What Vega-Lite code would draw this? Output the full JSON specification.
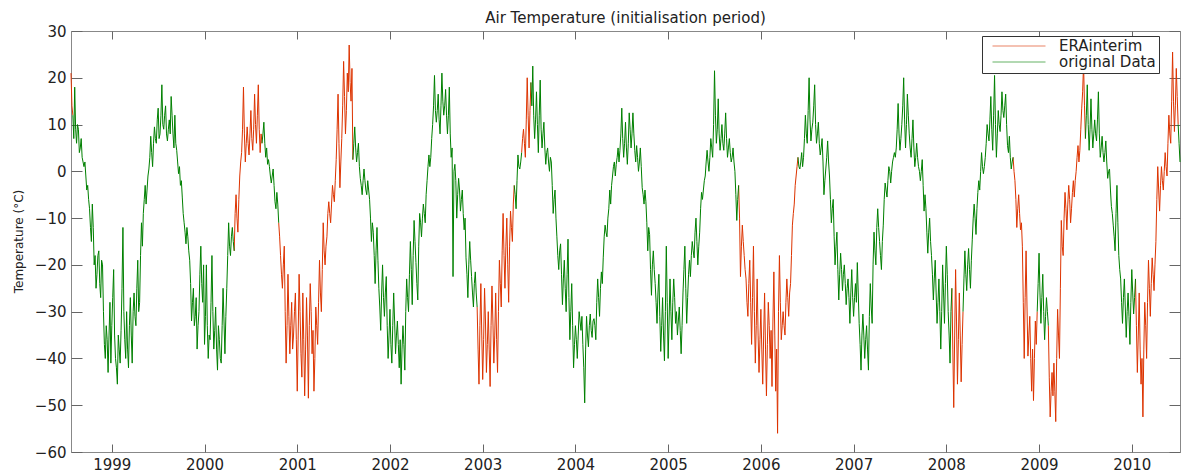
{
  "$schema": "https://vega.github.io/schema/vega-lite/v6.json",
  "width": 1109,
  "height": 421,
  "autosize": {"type": "none"},
  "padding": {"left": 71, "top": 31, "right": 5, "bottom": 23},
  "background": "white",
  "title": {"text": "Air Temperature (initialisation period)", "font": "DejaVu Sans", "fontSize": 15, "fontWeight": "normal", "color": "#222", "offset": -2},
  "config": {"view": {"stroke": "#888", "strokeWidth": 1}, "font": "DejaVu Sans"},
  "data": {"values": [
    {"x":1998.56,"ERAinterim":21},{"x":1998.57,"ERAinterim":14},{"x":1998.58,"ERAinterim":12,"original Data":12},{"x":1998.59,"original Data":7},{"x":1998.60,"original Data":18},{"x":1998.61,"original Data":9},{"x":1998.62,"original Data":6},{"x":1998.63,"original Data":10},{"x":1998.64,"original Data":9},{"x":1998.65,"original Data":4},{"x":1998.66,"original Data":5},{"x":1998.67,"original Data":7},{"x":1998.68,"original Data":3},{"x":1998.69,"original Data":2},{"x":1998.70,"original Data":1},{"x":1998.71,"original Data":2},{"x":1998.72,"original Data":-1},{"x":1998.73,"original Data":-4},{"x":1998.74,"original Data":-3},{"x":1998.75,"original Data":-6},{"x":1998.76,"original Data":-8},{"x":1998.77,"original Data":-12},{"x":1998.78,"original Data":-15},{"x":1998.79,"original Data":-7},{"x":1998.80,"original Data":-12},{"x":1998.81,"original Data":-20},{"x":1998.82,"original Data":-18},{"x":1998.83,"original Data":-25},{"x":1998.84,"original Data":-22},{"x":1998.85,"original Data":-18},{"x":1998.86,"original Data":-17},{"x":1998.87,"original Data":-24},{"x":1998.88,"original Data":-27},{"x":1998.89,"original Data":-19},{"x":1998.90,"original Data":-20},{"x":1998.91,"original Data":-30},{"x":1998.92,"original Data":-37},{"x":1998.93,"original Data":-40},{"x":1998.94,"original Data":-33},{"x":1998.95,"original Data":-36},{"x":1998.96,"original Data":-43},{"x":1998.97,"original Data":-35},{"x":1998.98,"original Data":-28},{"x":1998.99,"original Data":-41},
    {"x":1999.00,"original Data":-33},{"x":1999.01,"original Data":-27},{"x":1999.02,"original Data":-21},{"x":1999.03,"original Data":-35},{"x":1999.04,"original Data":-40},{"x":1999.05,"original Data":-42},{"x":1999.06,"original Data":-45.5},{"x":1999.07,"original Data":-35},{"x":1999.08,"original Data":-38},{"x":1999.09,"original Data":-41},{"x":1999.10,"original Data":-34},{"x":1999.11,"original Data":-25},{"x":1999.12,"original Data":-12},{"x":1999.13,"original Data":-30},{"x":1999.14,"original Data":-36},{"x":1999.15,"original Data":-40},{"x":1999.16,"original Data":-30},{"x":1999.17,"original Data":-38},{"x":1999.18,"original Data":-42},{"x":1999.19,"original Data":-33},{"x":1999.20,"original Data":-27},{"x":1999.21,"original Data":-35},{"x":1999.22,"original Data":-41},{"x":1999.23,"original Data":-30},{"x":1999.24,"original Data":-26},{"x":1999.25,"original Data":-31},{"x":1999.26,"original Data":-33},{"x":1999.27,"original Data":-25},{"x":1999.28,"original Data":-19},{"x":1999.29,"original Data":-30},{"x":1999.30,"original Data":-28},{"x":1999.31,"original Data":-18},{"x":1999.32,"original Data":-11},{"x":1999.33,"original Data":-16},{"x":1999.34,"original Data":-9},{"x":1999.35,"original Data":-6},{"x":1999.36,"original Data":-3},{"x":1999.37,"original Data":-7},{"x":1999.38,"original Data":-4},{"x":1999.39,"original Data":-1},{"x":1999.40,"original Data":0.5},{"x":1999.41,"original Data":3},{"x":1999.42,"original Data":7.5},{"x":1999.43,"original Data":4},{"x":1999.44,"original Data":1},{"x":1999.45,"original Data":6},{"x":1999.46,"original Data":9.5},{"x":1999.47,"original Data":7},{"x":1999.48,"original Data":6},{"x":1999.49,"original Data":11},{"x":1999.50,"original Data":13.5},{"x":1999.51,"original Data":7},{"x":1999.52,"original Data":8},{"x":1999.53,"original Data":12},{"x":1999.54,"original Data":18.5},{"x":1999.55,"original Data":10},{"x":1999.56,"original Data":9},{"x":1999.57,"original Data":12},{"x":1999.58,"original Data":14},{"x":1999.59,"original Data":8},{"x":1999.60,"original Data":6.5},{"x":1999.61,"original Data":9},{"x":1999.62,"original Data":11},{"x":1999.63,"original Data":8},{"x":1999.64,"original Data":16},{"x":1999.65,"original Data":12},{"x":1999.66,"original Data":8},{"x":1999.67,"original Data":5},{"x":1999.68,"original Data":12},{"x":1999.69,"original Data":6},{"x":1999.70,"original Data":4.5},{"x":1999.71,"original Data":2},{"x":1999.72,"original Data":-0.5},{"x":1999.73,"original Data":1},{"x":1999.74,"original Data":-3},{"x":1999.75,"original Data":-2},{"x":1999.76,"original Data":-5.5},{"x":1999.77,"original Data":-9},{"x":1999.78,"original Data":-11},{"x":1999.79,"original Data":-13},{"x":1999.80,"original Data":-15.5},{"x":1999.81,"original Data":-12},{"x":1999.82,"original Data":-14},{"x":1999.83,"original Data":-17},{"x":1999.84,"original Data":-19},{"x":1999.85,"original Data":-24},{"x":1999.86,"original Data":-32},{"x":1999.87,"original Data":-28},{"x":1999.88,"original Data":-25},{"x":1999.89,"original Data":-33},{"x":1999.90,"original Data":-31},{"x":1999.91,"original Data":-27},{"x":1999.92,"original Data":-38},{"x":1999.93,"original Data":-33},{"x":1999.94,"original Data":-30},{"x":1999.95,"original Data":-22},{"x":1999.96,"original Data":-16},{"x":1999.97,"original Data":-24},{"x":1999.98,"original Data":-28},{"x":1999.99,"original Data":-20},
    {"x":2000.00,"original Data":-37},{"x":2000.01,"original Data":-31},{"x":2000.02,"original Data":-20},{"x":2000.03,"original Data":-33},{"x":2000.04,"original Data":-40},{"x":2000.05,"original Data":-35},{"x":2000.06,"original Data":-36},{"x":2000.07,"original Data":-28},{"x":2000.08,"original Data":-18},{"x":2000.09,"original Data":-30},{"x":2000.10,"original Data":-38},{"x":2000.11,"original Data":-34},{"x":2000.12,"original Data":-29},{"x":2000.13,"original Data":-38},{"x":2000.14,"original Data":-42.5},{"x":2000.15,"original Data":-33},{"x":2000.16,"original Data":-36},{"x":2000.17,"original Data":-40},{"x":2000.18,"original Data":-41},{"x":2000.19,"original Data":-33},{"x":2000.20,"original Data":-25},{"x":2000.21,"original Data":-32},{"x":2000.22,"original Data":-39},{"x":2000.23,"original Data":-31},{"x":2000.24,"original Data":-25},{"x":2000.25,"original Data":-18},{"x":2000.26,"original Data":-11},{"x":2000.27,"original Data":-16},{"x":2000.28,"original Data":-18},{"x":2000.29,"original Data":-14},{"x":2000.30,"original Data":-12},{"x":2000.31,"original Data":-15},{"x":2000.32,"ERAinterim":-17,"original Data":-17},{"x":2000.33,"ERAinterim":-9},{"x":2000.34,"ERAinterim":-5},{"x":2000.35,"ERAinterim":-10},{"x":2000.36,"ERAinterim":-13},{"x":2000.37,"ERAinterim":-6},{"x":2000.38,"ERAinterim":-1},{"x":2000.39,"ERAinterim":2},{"x":2000.40,"ERAinterim":4},{"x":2000.41,"ERAinterim":9},{"x":2000.42,"ERAinterim":18},{"x":2000.43,"ERAinterim":8},{"x":2000.44,"ERAinterim":2},{"x":2000.45,"ERAinterim":6},{"x":2000.46,"ERAinterim":9.5},{"x":2000.47,"ERAinterim":6},{"x":2000.48,"ERAinterim":3.5},{"x":2000.49,"ERAinterim":8},{"x":2000.50,"ERAinterim":13},{"x":2000.51,"ERAinterim":7},{"x":2000.52,"ERAinterim":4.5},{"x":2000.53,"ERAinterim":9},{"x":2000.54,"ERAinterim":16.5},{"x":2000.55,"ERAinterim":10},{"x":2000.56,"ERAinterim":6},{"x":2000.57,"ERAinterim":12},{"x":2000.58,"ERAinterim":18.5},{"x":2000.59,"ERAinterim":9},{"x":2000.60,"ERAinterim":4},{"x":2000.61,"ERAinterim":8},{"x":2000.62,"ERAinterim":6,"original Data":6},{"x":2000.63,"original Data":8},{"x":2000.64,"original Data":10.5},{"x":2000.65,"original Data":6},{"x":2000.66,"original Data":3},{"x":2000.67,"original Data":5},{"x":2000.68,"original Data":1.5},{"x":2000.69,"original Data":2.5},{"x":2000.70,"original Data":1},{"x":2000.71,"original Data":-1},{"x":2000.72,"original Data":-2.5},{"x":2000.73,"original Data":-1},{"x":2000.74,"original Data":0.5},{"x":2000.75,"original Data":-3},{"x":2000.76,"original Data":-6.5},{"x":2000.77,"original Data":-8},{"x":2000.78,"original Data":-4.5},{"x":2000.79,"original Data":-7},{"x":2000.80,"ERAinterim":-11,"original Data":-11},{"x":2000.81,"ERAinterim":-14},{"x":2000.82,"ERAinterim":-18},{"x":2000.83,"ERAinterim":-22},{"x":2000.84,"ERAinterim":-25},{"x":2000.85,"ERAinterim":-20},{"x":2000.86,"ERAinterim":-16},{"x":2000.87,"ERAinterim":-30},{"x":2000.88,"ERAinterim":-41},{"x":2000.89,"ERAinterim":-33},{"x":2000.90,"ERAinterim":-22},{"x":2000.91,"ERAinterim":-31},{"x":2000.92,"ERAinterim":-39},{"x":2000.93,"ERAinterim":-33},{"x":2000.94,"ERAinterim":-28},{"x":2000.95,"ERAinterim":-38},{"x":2000.96,"ERAinterim":-35},{"x":2000.97,"ERAinterim":-30},{"x":2000.98,"ERAinterim":-26},{"x":2000.99,"ERAinterim":-36},
    {"x":2001.00,"ERAinterim":-47},{"x":2001.01,"ERAinterim":-35},{"x":2001.02,"ERAinterim":-22},{"x":2001.03,"ERAinterim":-30},{"x":2001.04,"ERAinterim":-39},{"x":2001.05,"ERAinterim":-44},{"x":2001.06,"ERAinterim":-26},{"x":2001.07,"ERAinterim":-36},{"x":2001.08,"ERAinterim":-48},{"x":2001.09,"ERAinterim":-38},{"x":2001.10,"ERAinterim":-27},{"x":2001.11,"ERAinterim":-35},{"x":2001.12,"ERAinterim":-48.5},{"x":2001.13,"ERAinterim":-33},{"x":2001.14,"ERAinterim":-24},{"x":2001.15,"ERAinterim":-30},{"x":2001.16,"ERAinterim":-39},{"x":2001.17,"ERAinterim":-34},{"x":2001.18,"ERAinterim":-47},{"x":2001.19,"ERAinterim":-40},{"x":2001.20,"ERAinterim":-29},{"x":2001.21,"ERAinterim":-33},{"x":2001.22,"ERAinterim":-37},{"x":2001.23,"ERAinterim":-28},{"x":2001.24,"ERAinterim":-19},{"x":2001.25,"ERAinterim":-26},{"x":2001.26,"ERAinterim":-30},{"x":2001.27,"ERAinterim":-21},{"x":2001.28,"ERAinterim":-11},{"x":2001.29,"ERAinterim":-17},{"x":2001.30,"ERAinterim":-20},{"x":2001.31,"ERAinterim":-16},{"x":2001.32,"ERAinterim":-14},{"x":2001.33,"ERAinterim":-9},{"x":2001.34,"ERAinterim":-6.5},{"x":2001.35,"ERAinterim":-9},{"x":2001.36,"ERAinterim":-11},{"x":2001.37,"ERAinterim":-7},{"x":2001.38,"ERAinterim":-3},{"x":2001.39,"ERAinterim":-5},{"x":2001.40,"ERAinterim":-6.5},{"x":2001.41,"ERAinterim":-2},{"x":2001.42,"ERAinterim":2.5},{"x":2001.43,"ERAinterim":9},{"x":2001.44,"ERAinterim":16.5},{"x":2001.45,"ERAinterim":6},{"x":2001.46,"ERAinterim":-3.5},{"x":2001.47,"ERAinterim":2},{"x":2001.48,"ERAinterim":7},{"x":2001.49,"ERAinterim":14},{"x":2001.50,"ERAinterim":23.5},{"x":2001.51,"ERAinterim":16},{"x":2001.52,"ERAinterim":8},{"x":2001.53,"ERAinterim":13},{"x":2001.54,"ERAinterim":21},{"x":2001.55,"ERAinterim":17},{"x":2001.56,"ERAinterim":27},{"x":2001.57,"ERAinterim":19},{"x":2001.58,"ERAinterim":15},{"x":2001.59,"ERAinterim":22},{"x":2001.60,"ERAinterim":2.5,"original Data":2.5},{"x":2001.61,"original Data":6},{"x":2001.62,"original Data":9.5},{"x":2001.63,"original Data":5},{"x":2001.64,"original Data":2},{"x":2001.65,"original Data":4},{"x":2001.66,"original Data":6},{"x":2001.67,"original Data":1},{"x":2001.68,"original Data":-1.5},{"x":2001.69,"original Data":-3},{"x":2001.70,"original Data":-5},{"x":2001.71,"original Data":-2},{"x":2001.72,"original Data":0.5},{"x":2001.73,"original Data":-2},{"x":2001.74,"original Data":-4},{"x":2001.75,"original Data":-5},{"x":2001.76,"original Data":-2},{"x":2001.77,"original Data":-4},{"x":2001.78,"original Data":-6},{"x":2001.79,"original Data":-10},{"x":2001.80,"original Data":-15},{"x":2001.81,"original Data":-11},{"x":2001.82,"original Data":-13},{"x":2001.83,"original Data":-18},{"x":2001.84,"original Data":-24},{"x":2001.85,"original Data":-17},{"x":2001.86,"original Data":-12},{"x":2001.87,"original Data":-19},{"x":2001.88,"original Data":-25},{"x":2001.89,"original Data":-29},{"x":2001.90,"original Data":-34},{"x":2001.91,"original Data":-26},{"x":2001.92,"original Data":-20},{"x":2001.93,"original Data":-27},{"x":2001.94,"original Data":-31},{"x":2001.95,"original Data":-26},{"x":2001.96,"original Data":-22.5},{"x":2001.97,"original Data":-33},{"x":2001.98,"original Data":-40},{"x":2001.99,"original Data":-35},
    {"x":2002.00,"original Data":-29.5},{"x":2002.01,"original Data":-37},{"x":2002.02,"original Data":-41},{"x":2002.03,"original Data":-33},{"x":2002.04,"original Data":-26},{"x":2002.05,"original Data":-32},{"x":2002.06,"original Data":-39},{"x":2002.07,"original Data":-35},{"x":2002.08,"original Data":-32},{"x":2002.09,"original Data":-37},{"x":2002.10,"original Data":-42},{"x":2002.11,"original Data":-36},{"x":2002.12,"original Data":-45.5},{"x":2002.13,"original Data":-38},{"x":2002.14,"original Data":-33},{"x":2002.15,"original Data":-37},{"x":2002.16,"original Data":-42.5},{"x":2002.17,"original Data":-30},{"x":2002.18,"original Data":-23},{"x":2002.19,"original Data":-27},{"x":2002.20,"original Data":-30},{"x":2002.21,"original Data":-22},{"x":2002.22,"original Data":-15},{"x":2002.23,"original Data":-21},{"x":2002.24,"original Data":-28.5},{"x":2002.25,"original Data":-18},{"x":2002.26,"original Data":-10.5},{"x":2002.27,"original Data":-15},{"x":2002.28,"original Data":-19.5},{"x":2002.29,"original Data":-24},{"x":2002.30,"original Data":-27.5},{"x":2002.31,"original Data":-16},{"x":2002.32,"original Data":-9},{"x":2002.33,"original Data":-11},{"x":2002.34,"original Data":-14},{"x":2002.35,"original Data":-10},{"x":2002.36,"original Data":-7},{"x":2002.37,"original Data":-9},{"x":2002.38,"original Data":-11},{"x":2002.39,"original Data":-5},{"x":2002.40,"original Data":-2},{"x":2002.41,"original Data":1},{"x":2002.42,"original Data":3.5},{"x":2002.43,"original Data":1},{"x":2002.44,"original Data":3},{"x":2002.45,"original Data":7},{"x":2002.46,"original Data":10},{"x":2002.47,"original Data":14},{"x":2002.48,"original Data":20.5},{"x":2002.49,"original Data":13},{"x":2002.50,"original Data":10.5},{"x":2002.51,"original Data":13},{"x":2002.52,"original Data":16.5},{"x":2002.53,"original Data":11},{"x":2002.54,"original Data":8},{"x":2002.55,"original Data":14},{"x":2002.56,"original Data":21},{"x":2002.57,"original Data":15},{"x":2002.58,"original Data":12},{"x":2002.59,"original Data":14},{"x":2002.60,"original Data":17.5},{"x":2002.61,"original Data":12},{"x":2002.62,"original Data":8},{"x":2002.63,"original Data":12},{"x":2002.64,"original Data":18},{"x":2002.65,"original Data":8},{"x":2002.66,"original Data":3},{"x":2002.67,"original Data":5},{"x":2002.68,"original Data":-22.5},{"x":2002.69,"original Data":0},{"x":2002.70,"original Data":1.5},{"x":2002.71,"original Data":-2},{"x":2002.72,"original Data":-10},{"x":2002.73,"original Data":-5},{"x":2002.74,"original Data":-1.5},{"x":2002.75,"original Data":-4},{"x":2002.76,"original Data":-8.5},{"x":2002.77,"original Data":-6},{"x":2002.78,"original Data":-4},{"x":2002.79,"original Data":-9},{"x":2002.80,"original Data":-12.5},{"x":2002.81,"original Data":-10},{"x":2002.82,"original Data":-18.5},{"x":2002.83,"original Data":-22},{"x":2002.84,"original Data":-27},{"x":2002.85,"original Data":-20},{"x":2002.86,"original Data":-15},{"x":2002.87,"original Data":-19},{"x":2002.88,"original Data":-22.5},{"x":2002.89,"original Data":-26},{"x":2002.90,"original Data":-29},{"x":2002.91,"original Data":-24},{"x":2002.92,"original Data":-21.5},{"x":2002.93,"original Data":-26},{"x":2002.94,"ERAinterim":-29,"original Data":-29},{"x":2002.95,"ERAinterim":-38},{"x":2002.96,"ERAinterim":-45.5},{"x":2002.97,"ERAinterim":-33},{"x":2002.98,"ERAinterim":-24},{"x":2002.99,"ERAinterim":-35},
    {"x":2003.00,"ERAinterim":-44.5},{"x":2003.01,"ERAinterim":-36},{"x":2003.02,"ERAinterim":-25},{"x":2003.03,"ERAinterim":-32},{"x":2003.04,"ERAinterim":-43},{"x":2003.05,"ERAinterim":-37},{"x":2003.06,"ERAinterim":-30},{"x":2003.07,"ERAinterim":-38},{"x":2003.08,"ERAinterim":-46},{"x":2003.09,"ERAinterim":-33},{"x":2003.10,"ERAinterim":-24.5},{"x":2003.11,"ERAinterim":-32},{"x":2003.12,"ERAinterim":-41},{"x":2003.13,"ERAinterim":-35},{"x":2003.14,"ERAinterim":-26},{"x":2003.15,"ERAinterim":-36},{"x":2003.16,"ERAinterim":-43},{"x":2003.17,"ERAinterim":-30},{"x":2003.18,"ERAinterim":-19},{"x":2003.19,"ERAinterim":-24},{"x":2003.20,"ERAinterim":-29},{"x":2003.21,"ERAinterim":-17},{"x":2003.22,"ERAinterim":-9},{"x":2003.23,"ERAinterim":-18},{"x":2003.24,"ERAinterim":-25},{"x":2003.25,"ERAinterim":-16},{"x":2003.26,"ERAinterim":-10},{"x":2003.27,"ERAinterim":-20},{"x":2003.28,"ERAinterim":-28},{"x":2003.29,"ERAinterim":-16},{"x":2003.30,"ERAinterim":-8.5},{"x":2003.31,"ERAinterim":-12},{"x":2003.32,"ERAinterim":-15},{"x":2003.33,"ERAinterim":-7},{"x":2003.34,"ERAinterim":-3,"original Data":-3},{"x":2003.35,"original Data":-5},{"x":2003.36,"original Data":-8},{"x":2003.37,"original Data":-2},{"x":2003.38,"original Data":3.5},{"x":2003.39,"original Data":1},{"x":2003.40,"original Data":0.5},{"x":2003.41,"original Data":2},{"x":2003.42,"ERAinterim":4,"original Data":4},{"x":2003.43,"ERAinterim":7},{"x":2003.44,"ERAinterim":9},{"x":2003.45,"ERAinterim":6},{"x":2003.46,"ERAinterim":3},{"x":2003.47,"ERAinterim":11},{"x":2003.48,"ERAinterim":20},{"x":2003.49,"ERAinterim":12},{"x":2003.50,"ERAinterim":5},{"x":2003.51,"ERAinterim":13},{"x":2003.52,"ERAinterim":19,"original Data":19},{"x":2003.53,"original Data":14},{"x":2003.54,"original Data":22.5},{"x":2003.55,"original Data":12},{"x":2003.56,"original Data":7},{"x":2003.57,"original Data":11},{"x":2003.58,"original Data":17},{"x":2003.59,"original Data":10},{"x":2003.60,"original Data":4},{"x":2003.61,"original Data":12},{"x":2003.62,"original Data":19.5},{"x":2003.63,"original Data":9},{"x":2003.64,"original Data":5},{"x":2003.65,"original Data":8},{"x":2003.66,"original Data":10.5},{"x":2003.67,"original Data":5},{"x":2003.68,"original Data":1.5},{"x":2003.69,"original Data":4},{"x":2003.70,"original Data":5},{"x":2003.71,"original Data":2},{"x":2003.72,"original Data":0},{"x":2003.73,"original Data":3},{"x":2003.74,"original Data":2},{"x":2003.75,"original Data":-3},{"x":2003.76,"original Data":-9},{"x":2003.77,"original Data":-6},{"x":2003.78,"original Data":-4},{"x":2003.79,"original Data":-10},{"x":2003.80,"original Data":-14},{"x":2003.81,"original Data":-18},{"x":2003.82,"original Data":-21},{"x":2003.83,"original Data":-17},{"x":2003.84,"original Data":-15.5},{"x":2003.85,"original Data":-22},{"x":2003.86,"original Data":-28.5},{"x":2003.87,"original Data":-23},{"x":2003.88,"original Data":-19},{"x":2003.89,"original Data":-25},{"x":2003.90,"original Data":-30},{"x":2003.91,"original Data":-22},{"x":2003.92,"original Data":-14.5},{"x":2003.93,"original Data":-27},{"x":2003.94,"original Data":-36},{"x":2003.95,"original Data":-30},{"x":2003.96,"original Data":-24},{"x":2003.97,"original Data":-33},{"x":2003.98,"original Data":-42},{"x":2003.99,"original Data":-37},
    {"x":2004.00,"original Data":-33},{"x":2004.01,"original Data":-36},{"x":2004.02,"original Data":-40},{"x":2004.03,"original Data":-35},{"x":2004.04,"original Data":-30},{"x":2004.05,"original Data":-32},{"x":2004.06,"original Data":-34},{"x":2004.07,"original Data":-31},{"x":2004.08,"original Data":-37},{"x":2004.09,"original Data":-42},{"x":2004.10,"original Data":-49.5},{"x":2004.11,"original Data":-38},{"x":2004.12,"original Data":-31},{"x":2004.13,"original Data":-35},{"x":2004.14,"original Data":-37.5},{"x":2004.15,"original Data":-33},{"x":2004.16,"original Data":-30.5},{"x":2004.17,"original Data":-34},{"x":2004.18,"original Data":-35.5},{"x":2004.19,"original Data":-32},{"x":2004.20,"original Data":-31.5},{"x":2004.21,"original Data":-33},{"x":2004.22,"original Data":-36},{"x":2004.23,"original Data":-28},{"x":2004.24,"original Data":-23},{"x":2004.25,"original Data":-27},{"x":2004.26,"original Data":-31},{"x":2004.27,"original Data":-25},{"x":2004.28,"original Data":-21.5},{"x":2004.29,"original Data":-24},{"x":2004.30,"original Data":-18.5},{"x":2004.31,"original Data":-14},{"x":2004.32,"original Data":-11.5},{"x":2004.33,"original Data":-13},{"x":2004.34,"original Data":-14},{"x":2004.35,"original Data":-10},{"x":2004.36,"original Data":-8},{"x":2004.37,"original Data":-4},{"x":2004.38,"original Data":-7},{"x":2004.39,"original Data":-3},{"x":2004.40,"original Data":-1},{"x":2004.41,"original Data":1},{"x":2004.42,"original Data":2},{"x":2004.43,"original Data":-1},{"x":2004.44,"original Data":1.5},{"x":2004.45,"original Data":3},{"x":2004.46,"original Data":5},{"x":2004.47,"original Data":2},{"x":2004.48,"original Data":4.5},{"x":2004.49,"original Data":8},{"x":2004.50,"original Data":13.5},{"x":2004.51,"original Data":7},{"x":2004.52,"original Data":3},{"x":2004.53,"original Data":6},{"x":2004.54,"original Data":10.5},{"x":2004.55,"original Data":5},{"x":2004.56,"original Data":1.5},{"x":2004.57,"original Data":6},{"x":2004.58,"original Data":12.5},{"x":2004.59,"original Data":9},{"x":2004.60,"original Data":5},{"x":2004.61,"original Data":8},{"x":2004.62,"original Data":12.5},{"x":2004.63,"original Data":8},{"x":2004.64,"original Data":4.5},{"x":2004.65,"original Data":2},{"x":2004.66,"original Data":5.5},{"x":2004.67,"original Data":3},{"x":2004.68,"original Data":0},{"x":2004.69,"original Data":2},{"x":2004.70,"original Data":5},{"x":2004.71,"original Data":1},{"x":2004.72,"original Data":-3.5},{"x":2004.73,"original Data":-5},{"x":2004.74,"original Data":-7},{"x":2004.75,"original Data":-4},{"x":2004.76,"original Data":-6.5},{"x":2004.77,"original Data":-11},{"x":2004.78,"original Data":-17},{"x":2004.79,"original Data":-12},{"x":2004.80,"original Data":-13.5},{"x":2004.81,"original Data":-21},{"x":2004.82,"original Data":-26.5},{"x":2004.83,"original Data":-20},{"x":2004.84,"original Data":-17},{"x":2004.85,"original Data":-21},{"x":2004.86,"original Data":-24},{"x":2004.87,"original Data":-28},{"x":2004.88,"original Data":-32.5},{"x":2004.89,"original Data":-26},{"x":2004.90,"original Data":-22},{"x":2004.91,"original Data":-31},{"x":2004.92,"original Data":-38.5},{"x":2004.93,"original Data":-33},{"x":2004.94,"original Data":-27},{"x":2004.95,"original Data":-35},{"x":2004.96,"original Data":-40.5},{"x":2004.97,"original Data":-30},{"x":2004.98,"original Data":-16},{"x":2004.99,"original Data":-28},
    {"x":2005.00,"original Data":-40},{"x":2005.01,"original Data":-32},{"x":2005.02,"original Data":-23},{"x":2005.03,"original Data":-30},{"x":2005.04,"original Data":-36},{"x":2005.05,"original Data":-28},{"x":2005.06,"original Data":-23},{"x":2005.07,"original Data":-27},{"x":2005.08,"original Data":-32.5},{"x":2005.09,"original Data":-30},{"x":2005.10,"original Data":-35},{"x":2005.11,"original Data":-32},{"x":2005.12,"original Data":-29},{"x":2005.13,"original Data":-34},{"x":2005.14,"original Data":-39},{"x":2005.15,"original Data":-33},{"x":2005.16,"original Data":-26},{"x":2005.17,"original Data":-21},{"x":2005.18,"original Data":-16},{"x":2005.19,"original Data":-25},{"x":2005.20,"original Data":-32.5},{"x":2005.21,"original Data":-27},{"x":2005.22,"original Data":-22},{"x":2005.23,"original Data":-19},{"x":2005.24,"original Data":-22.5},{"x":2005.25,"original Data":-18},{"x":2005.26,"original Data":-15},{"x":2005.27,"original Data":-17},{"x":2005.28,"original Data":-18.5},{"x":2005.29,"original Data":-13},{"x":2005.30,"original Data":-10},{"x":2005.31,"original Data":-15},{"x":2005.32,"original Data":-20},{"x":2005.33,"original Data":-16},{"x":2005.34,"original Data":-13},{"x":2005.35,"original Data":-8},{"x":2005.36,"original Data":-4.5},{"x":2005.37,"original Data":-6},{"x":2005.38,"original Data":-4},{"x":2005.39,"original Data":-2},{"x":2005.40,"original Data":-1},{"x":2005.41,"original Data":2},{"x":2005.42,"original Data":4.5},{"x":2005.43,"original Data":2},{"x":2005.44,"original Data":0},{"x":2005.45,"original Data":3},{"x":2005.46,"original Data":7},{"x":2005.47,"original Data":5},{"x":2005.48,"original Data":3},{"x":2005.49,"original Data":10},{"x":2005.50,"original Data":21.5},{"x":2005.51,"original Data":12},{"x":2005.52,"original Data":6},{"x":2005.53,"original Data":9},{"x":2005.54,"original Data":15.5},{"x":2005.55,"original Data":8},{"x":2005.56,"original Data":4.5},{"x":2005.57,"original Data":7},{"x":2005.58,"original Data":10},{"x":2005.59,"original Data":6},{"x":2005.60,"original Data":4.5},{"x":2005.61,"original Data":8},{"x":2005.62,"original Data":12.5},{"x":2005.63,"original Data":7},{"x":2005.64,"original Data":3},{"x":2005.65,"original Data":5},{"x":2005.66,"original Data":7},{"x":2005.67,"original Data":4},{"x":2005.68,"original Data":2},{"x":2005.69,"original Data":3},{"x":2005.70,"original Data":5},{"x":2005.71,"original Data":2},{"x":2005.72,"original Data":0},{"x":2005.73,"original Data":-5},{"x":2005.74,"original Data":-10.5},{"x":2005.75,"original Data":-6},{"x":2005.76,"ERAinterim":-3,"original Data":-3},{"x":2005.77,"ERAinterim":-10},{"x":2005.78,"ERAinterim":-22.5},{"x":2005.79,"ERAinterim":-16},{"x":2005.80,"ERAinterim":-11.5},{"x":2005.81,"ERAinterim":-15},{"x":2005.82,"ERAinterim":-18},{"x":2005.83,"ERAinterim":-21},{"x":2005.84,"ERAinterim":-23},{"x":2005.85,"ERAinterim":-28},{"x":2005.86,"ERAinterim":-31},{"x":2005.87,"ERAinterim":-24},{"x":2005.88,"ERAinterim":-19},{"x":2005.89,"ERAinterim":-28},{"x":2005.90,"ERAinterim":-37},{"x":2005.91,"ERAinterim":-27},{"x":2005.92,"ERAinterim":-16},{"x":2005.93,"ERAinterim":-30},{"x":2005.94,"ERAinterim":-41},{"x":2005.95,"ERAinterim":-33},{"x":2005.96,"ERAinterim":-23},{"x":2005.97,"ERAinterim":-35},{"x":2005.98,"ERAinterim":-43},{"x":2005.99,"ERAinterim":-36},
    {"x":2006.00,"ERAinterim":-29.5},{"x":2006.01,"ERAinterim":-38},{"x":2006.02,"ERAinterim":-45.5},{"x":2006.03,"ERAinterim":-35},{"x":2006.04,"ERAinterim":-26},{"x":2006.05,"ERAinterim":-38},{"x":2006.06,"ERAinterim":-48},{"x":2006.07,"ERAinterim":-37},{"x":2006.08,"ERAinterim":-28},{"x":2006.09,"ERAinterim":-33},{"x":2006.10,"ERAinterim":-40},{"x":2006.11,"ERAinterim":-34},{"x":2006.12,"ERAinterim":-46},{"x":2006.13,"ERAinterim":-32},{"x":2006.14,"ERAinterim":-21.5},{"x":2006.15,"ERAinterim":-35},{"x":2006.16,"ERAinterim":-47},{"x":2006.17,"ERAinterim":-38},{"x":2006.18,"ERAinterim":-56},{"x":2006.19,"ERAinterim":-30},{"x":2006.20,"ERAinterim":-18},{"x":2006.21,"ERAinterim":-28},{"x":2006.22,"ERAinterim":-36},{"x":2006.23,"ERAinterim":-33},{"x":2006.24,"ERAinterim":-30},{"x":2006.25,"ERAinterim":-33},{"x":2006.26,"ERAinterim":-35},{"x":2006.27,"ERAinterim":-28},{"x":2006.28,"ERAinterim":-23},{"x":2006.29,"ERAinterim":-27},{"x":2006.30,"ERAinterim":-31},{"x":2006.31,"ERAinterim":-26},{"x":2006.32,"ERAinterim":-24},{"x":2006.33,"ERAinterim":-18},{"x":2006.34,"ERAinterim":-11.5},{"x":2006.35,"ERAinterim":-9},{"x":2006.36,"ERAinterim":-7},{"x":2006.37,"ERAinterim":-3},{"x":2006.38,"ERAinterim":-1},{"x":2006.39,"ERAinterim":1},{"x":2006.40,"ERAinterim":3,"original Data":3},{"x":2006.41,"original Data":1},{"x":2006.42,"original Data":0.5},{"x":2006.43,"original Data":2},{"x":2006.44,"original Data":4},{"x":2006.45,"original Data":1},{"x":2006.46,"original Data":3},{"x":2006.47,"original Data":7},{"x":2006.48,"original Data":12},{"x":2006.49,"original Data":8},{"x":2006.50,"original Data":6},{"x":2006.51,"original Data":13},{"x":2006.52,"original Data":20},{"x":2006.53,"original Data":11},{"x":2006.54,"original Data":6.5},{"x":2006.55,"original Data":9},{"x":2006.56,"original Data":10.5},{"x":2006.57,"original Data":14},{"x":2006.58,"original Data":18.5},{"x":2006.59,"original Data":10},{"x":2006.60,"original Data":6},{"x":2006.61,"original Data":8},{"x":2006.62,"original Data":10.5},{"x":2006.63,"original Data":6},{"x":2006.64,"original Data":3.5},{"x":2006.65,"original Data":5},{"x":2006.66,"original Data":7},{"x":2006.67,"original Data":2},{"x":2006.68,"original Data":-5},{"x":2006.69,"original Data":-2},{"x":2006.70,"original Data":0.5},{"x":2006.71,"original Data":3},{"x":2006.72,"original Data":6.5},{"x":2006.73,"original Data":2},{"x":2006.74,"original Data":-1},{"x":2006.75,"original Data":-6},{"x":2006.76,"original Data":-11},{"x":2006.77,"original Data":-8},{"x":2006.78,"original Data":-6},{"x":2006.79,"original Data":-14},{"x":2006.80,"original Data":-20},{"x":2006.81,"original Data":-16},{"x":2006.82,"original Data":-13},{"x":2006.83,"original Data":-21},{"x":2006.84,"original Data":-27.5},{"x":2006.85,"original Data":-22},{"x":2006.86,"original Data":-17.5},{"x":2006.87,"original Data":-21},{"x":2006.88,"original Data":-25.5},{"x":2006.89,"original Data":-22},{"x":2006.90,"original Data":-20},{"x":2006.91,"original Data":-24},{"x":2006.92,"original Data":-28.5},{"x":2006.93,"original Data":-25},{"x":2006.94,"original Data":-23},{"x":2006.95,"original Data":-27},{"x":2006.96,"original Data":-32.5},{"x":2006.97,"original Data":-26},{"x":2006.98,"original Data":-21},{"x":2006.99,"original Data":-27},
    {"x":2007.00,"original Data":-31},{"x":2007.01,"original Data":-27},{"x":2007.02,"original Data":-24},{"x":2007.03,"original Data":-28},{"x":2007.04,"original Data":-19.5},{"x":2007.05,"original Data":-26},{"x":2007.06,"original Data":-32.5},{"x":2007.07,"original Data":-37},{"x":2007.08,"original Data":-42.5},{"x":2007.09,"original Data":-35},{"x":2007.10,"original Data":-30.5},{"x":2007.11,"original Data":-35},{"x":2007.12,"original Data":-40},{"x":2007.13,"original Data":-36},{"x":2007.14,"original Data":-33},{"x":2007.15,"original Data":-38},{"x":2007.16,"original Data":-42.5},{"x":2007.17,"original Data":-31},{"x":2007.18,"original Data":-24},{"x":2007.19,"original Data":-29},{"x":2007.20,"original Data":-32.5},{"x":2007.21,"original Data":-20},{"x":2007.22,"original Data":-13},{"x":2007.23,"original Data":-17},{"x":2007.24,"original Data":-20},{"x":2007.25,"original Data":-12},{"x":2007.26,"original Data":-8},{"x":2007.27,"original Data":-12},{"x":2007.28,"original Data":-15},{"x":2007.29,"original Data":-18},{"x":2007.30,"original Data":-21},{"x":2007.31,"original Data":-15},{"x":2007.32,"original Data":-11.5},{"x":2007.33,"original Data":-6},{"x":2007.34,"original Data":-2.5},{"x":2007.35,"original Data":-4},{"x":2007.36,"original Data":-5.5},{"x":2007.37,"original Data":-2},{"x":2007.38,"original Data":1},{"x":2007.39,"original Data":0},{"x":2007.40,"original Data":-2.5},{"x":2007.41,"original Data":0},{"x":2007.42,"original Data":2},{"x":2007.43,"original Data":3},{"x":2007.44,"original Data":4},{"x":2007.45,"original Data":3},{"x":2007.46,"original Data":5},{"x":2007.47,"original Data":9},{"x":2007.48,"original Data":14.5},{"x":2007.49,"original Data":8},{"x":2007.50,"original Data":4.5},{"x":2007.51,"original Data":7},{"x":2007.52,"original Data":10},{"x":2007.53,"original Data":14},{"x":2007.54,"original Data":20},{"x":2007.55,"original Data":11},{"x":2007.56,"original Data":5},{"x":2007.57,"original Data":10},{"x":2007.58,"original Data":16.5},{"x":2007.59,"original Data":12},{"x":2007.60,"original Data":8},{"x":2007.61,"original Data":5},{"x":2007.62,"original Data":3},{"x":2007.63,"original Data":7},{"x":2007.64,"original Data":11},{"x":2007.65,"original Data":5},{"x":2007.66,"original Data":1},{"x":2007.67,"original Data":3},{"x":2007.68,"original Data":6},{"x":2007.69,"original Data":3},{"x":2007.70,"original Data":1},{"x":2007.71,"original Data":0},{"x":2007.72,"original Data":-2},{"x":2007.73,"original Data":0},{"x":2007.74,"original Data":2.5},{"x":2007.75,"original Data":-3},{"x":2007.76,"original Data":-8.5},{"x":2007.77,"original Data":-5},{"x":2007.78,"original Data":-8},{"x":2007.79,"original Data":-13},{"x":2007.80,"original Data":-17.5},{"x":2007.81,"original Data":-13},{"x":2007.82,"original Data":-10},{"x":2007.83,"original Data":-15},{"x":2007.84,"original Data":-18},{"x":2007.85,"original Data":-22},{"x":2007.86,"original Data":-27.5},{"x":2007.87,"original Data":-23},{"x":2007.88,"original Data":-19},{"x":2007.89,"original Data":-26},{"x":2007.90,"original Data":-32.5},{"x":2007.91,"original Data":-28},{"x":2007.92,"original Data":-23},{"x":2007.93,"original Data":-30},{"x":2007.94,"original Data":-38},{"x":2007.95,"original Data":-30},{"x":2007.96,"original Data":-20},{"x":2007.97,"original Data":-26},{"x":2007.98,"original Data":-32.5},{"x":2007.99,"original Data":-24},
    {"x":2008.00,"original Data":-16},{"x":2008.01,"original Data":-22},{"x":2008.02,"original Data":-30},{"x":2008.03,"original Data":-35},{"x":2008.04,"original Data":-41},{"x":2008.05,"original Data":-30},{"x":2008.06,"ERAinterim":-25,"original Data":-25},{"x":2008.07,"ERAinterim":-38},{"x":2008.08,"ERAinterim":-50.5},{"x":2008.09,"ERAinterim":-35},{"x":2008.10,"ERAinterim":-21},{"x":2008.11,"ERAinterim":-32},{"x":2008.12,"ERAinterim":-45.5},{"x":2008.13,"ERAinterim":-36},{"x":2008.14,"ERAinterim":-26},{"x":2008.15,"ERAinterim":-35},{"x":2008.16,"ERAinterim":-45},{"x":2008.17,"ERAinterim":-37},{"x":2008.18,"ERAinterim":-30,"original Data":-30},{"x":2008.19,"original Data":-23},{"x":2008.20,"original Data":-17},{"x":2008.21,"original Data":-22},{"x":2008.22,"original Data":-25.5},{"x":2008.23,"original Data":-20},{"x":2008.24,"original Data":-16.5},{"x":2008.25,"original Data":-21},{"x":2008.26,"original Data":-25},{"x":2008.27,"original Data":-19},{"x":2008.28,"original Data":-14.5},{"x":2008.29,"original Data":-10},{"x":2008.30,"original Data":-7},{"x":2008.31,"original Data":-10},{"x":2008.32,"original Data":-13.5},{"x":2008.33,"original Data":-8},{"x":2008.34,"original Data":-4.5},{"x":2008.35,"original Data":-2},{"x":2008.36,"original Data":-4},{"x":2008.37,"original Data":0},{"x":2008.38,"original Data":4},{"x":2008.39,"original Data":1},{"x":2008.40,"original Data":-0.5},{"x":2008.41,"original Data":1},{"x":2008.42,"original Data":3},{"x":2008.43,"original Data":6},{"x":2008.44,"original Data":10},{"x":2008.45,"original Data":8},{"x":2008.46,"original Data":6.5},{"x":2008.47,"original Data":11},{"x":2008.48,"original Data":16},{"x":2008.49,"original Data":9},{"x":2008.50,"original Data":4.5},{"x":2008.51,"original Data":12},{"x":2008.52,"original Data":20.5},{"x":2008.53,"original Data":10},{"x":2008.54,"original Data":3},{"x":2008.55,"original Data":8},{"x":2008.56,"original Data":13},{"x":2008.57,"original Data":10},{"x":2008.58,"original Data":8.5},{"x":2008.59,"original Data":12},{"x":2008.60,"original Data":17},{"x":2008.61,"original Data":13},{"x":2008.62,"original Data":11.5},{"x":2008.63,"original Data":14},{"x":2008.64,"original Data":16.5},{"x":2008.65,"original Data":10},{"x":2008.66,"original Data":5.5},{"x":2008.67,"original Data":4},{"x":2008.68,"original Data":7.5},{"x":2008.69,"original Data":3},{"x":2008.70,"original Data":0.5},{"x":2008.71,"original Data":2},{"x":2008.72,"ERAinterim":3,"original Data":3},{"x":2008.73,"ERAinterim":0},{"x":2008.74,"ERAinterim":-2},{"x":2008.75,"ERAinterim":-6},{"x":2008.76,"ERAinterim":-12},{"x":2008.77,"ERAinterim":-8},{"x":2008.78,"ERAinterim":-5},{"x":2008.79,"ERAinterim":-9},{"x":2008.80,"ERAinterim":-12.5},{"x":2008.81,"ERAinterim":-11},{"x":2008.82,"ERAinterim":-16},{"x":2008.83,"ERAinterim":-28},{"x":2008.84,"ERAinterim":-40},{"x":2008.85,"ERAinterim":-27},{"x":2008.86,"ERAinterim":-17},{"x":2008.87,"ERAinterim":-29},{"x":2008.88,"ERAinterim":-39.5},{"x":2008.89,"ERAinterim":-35},{"x":2008.90,"ERAinterim":-31},{"x":2008.91,"ERAinterim":-40},{"x":2008.92,"ERAinterim":-47},{"x":2008.93,"ERAinterim":-38},{"x":2008.94,"ERAinterim":-49},{"x":2008.95,"ERAinterim":-40},{"x":2008.96,"ERAinterim":-32},{"x":2008.97,"ERAinterim":-37},{"x":2008.98,"ERAinterim":-30,"original Data":-30},{"x":2008.99,"original Data":-24},
    {"x":2009.00,"original Data":-17.5},{"x":2009.01,"original Data":-26},{"x":2009.02,"original Data":-32.5},{"x":2009.03,"original Data":-27},{"x":2009.04,"original Data":-22},{"x":2009.05,"original Data":-30},{"x":2009.06,"original Data":-36},{"x":2009.07,"original Data":-31},{"x":2009.08,"original Data":-27},{"x":2009.09,"original Data":-30},{"x":2009.10,"ERAinterim":-33,"original Data":-33},{"x":2009.11,"ERAinterim":-44},{"x":2009.12,"ERAinterim":-52.5},{"x":2009.13,"ERAinterim":-47},{"x":2009.14,"ERAinterim":-43},{"x":2009.15,"ERAinterim":-48},{"x":2009.16,"ERAinterim":-41},{"x":2009.17,"ERAinterim":-47},{"x":2009.18,"ERAinterim":-53.5},{"x":2009.19,"ERAinterim":-40},{"x":2009.20,"ERAinterim":-29.5},{"x":2009.21,"ERAinterim":-35},{"x":2009.22,"ERAinterim":-40},{"x":2009.23,"ERAinterim":-25},{"x":2009.24,"ERAinterim":-10.5},{"x":2009.25,"ERAinterim":-16},{"x":2009.26,"ERAinterim":-18},{"x":2009.27,"ERAinterim":-10},{"x":2009.28,"ERAinterim":-4.5},{"x":2009.29,"ERAinterim":-8},{"x":2009.30,"ERAinterim":-12.5},{"x":2009.31,"ERAinterim":-7},{"x":2009.32,"ERAinterim":-3},{"x":2009.33,"ERAinterim":-6},{"x":2009.34,"ERAinterim":-11},{"x":2009.35,"ERAinterim":-8},{"x":2009.36,"ERAinterim":-4.5},{"x":2009.37,"ERAinterim":-2},{"x":2009.38,"ERAinterim":-5.5},{"x":2009.39,"ERAinterim":-2},{"x":2009.40,"ERAinterim":0},{"x":2009.41,"ERAinterim":3},{"x":2009.42,"ERAinterim":5.5},{"x":2009.43,"ERAinterim":2},{"x":2009.44,"ERAinterim":4.5},{"x":2009.45,"ERAinterim":9},{"x":2009.46,"ERAinterim":13.5},{"x":2009.47,"ERAinterim":17},{"x":2009.48,"ERAinterim":23},{"x":2009.49,"ERAinterim":14},{"x":2009.50,"ERAinterim":7,"original Data":7},{"x":2009.51,"original Data":12},{"x":2009.52,"original Data":18.5},{"x":2009.53,"original Data":10},{"x":2009.54,"original Data":4.5},{"x":2009.55,"original Data":9},{"x":2009.56,"original Data":15.5},{"x":2009.57,"original Data":9},{"x":2009.58,"original Data":5},{"x":2009.59,"original Data":8},{"x":2009.60,"original Data":11},{"x":2009.61,"original Data":8},{"x":2009.62,"original Data":6.5},{"x":2009.63,"original Data":11},{"x":2009.64,"original Data":17},{"x":2009.65,"original Data":8},{"x":2009.66,"original Data":3},{"x":2009.67,"original Data":5},{"x":2009.68,"original Data":7.5},{"x":2009.69,"original Data":4},{"x":2009.70,"original Data":2},{"x":2009.71,"original Data":4},{"x":2009.72,"original Data":6.5},{"x":2009.73,"original Data":2},{"x":2009.74,"original Data":-1.5},{"x":2009.75,"original Data":0},{"x":2009.76,"original Data":0.5},{"x":2009.77,"original Data":-4},{"x":2009.78,"original Data":-7.5},{"x":2009.79,"original Data":-9},{"x":2009.80,"original Data":-11.5},{"x":2009.81,"original Data":-14},{"x":2009.82,"original Data":-17},{"x":2009.83,"original Data":-9},{"x":2009.84,"original Data":-3},{"x":2009.85,"original Data":-11},{"x":2009.86,"original Data":-18},{"x":2009.87,"original Data":-21},{"x":2009.88,"original Data":-23},{"x":2009.89,"original Data":-28},{"x":2009.90,"original Data":-32.5},{"x":2009.91,"original Data":-27},{"x":2009.92,"original Data":-23},{"x":2009.93,"original Data":-29},{"x":2009.94,"original Data":-35.5},{"x":2009.95,"original Data":-30},{"x":2009.96,"original Data":-26},{"x":2009.97,"original Data":-31},{"x":2009.98,"original Data":-37},{"x":2009.99,"original Data":-28},
    {"x":2010.00,"original Data":-21},{"x":2010.01,"original Data":-26},{"x":2010.02,"original Data":-30.5},{"x":2010.03,"original Data":-27},{"x":2010.04,"ERAinterim":-23,"original Data":-23},{"x":2010.05,"ERAinterim":-33},{"x":2010.06,"ERAinterim":-43},{"x":2010.07,"ERAinterim":-35},{"x":2010.08,"ERAinterim":-26},{"x":2010.09,"ERAinterim":-38},{"x":2010.10,"ERAinterim":-45.5},{"x":2010.11,"ERAinterim":-40},{"x":2010.12,"ERAinterim":-52.5},{"x":2010.13,"ERAinterim":-38},{"x":2010.14,"ERAinterim":-28},{"x":2010.15,"ERAinterim":-33},{"x":2010.16,"ERAinterim":-40},{"x":2010.17,"ERAinterim":-28},{"x":2010.18,"ERAinterim":-19},{"x":2010.19,"ERAinterim":-25},{"x":2010.20,"ERAinterim":-31},{"x":2010.21,"ERAinterim":-24},{"x":2010.22,"ERAinterim":-18.5},{"x":2010.23,"ERAinterim":-22},{"x":2010.24,"ERAinterim":-25.5},{"x":2010.25,"ERAinterim":-20},{"x":2010.26,"ERAinterim":-15},{"x":2010.27,"ERAinterim":-6},{"x":2010.28,"ERAinterim":1},{"x":2010.29,"ERAinterim":-4},{"x":2010.30,"ERAinterim":-8.5},{"x":2010.31,"ERAinterim":-3},{"x":2010.32,"ERAinterim":1},{"x":2010.33,"ERAinterim":-2},{"x":2010.34,"ERAinterim":-4},{"x":2010.35,"ERAinterim":0},{"x":2010.36,"ERAinterim":4},{"x":2010.37,"ERAinterim":1},{"x":2010.38,"ERAinterim":-1},{"x":2010.39,"ERAinterim":6},{"x":2010.40,"ERAinterim":12},{"x":2010.41,"ERAinterim":8},{"x":2010.42,"ERAinterim":6},{"x":2010.43,"ERAinterim":15},{"x":2010.44,"ERAinterim":25.5},{"x":2010.45,"ERAinterim":15},{"x":2010.46,"ERAinterim":8.5},{"x":2010.47,"ERAinterim":14},{"x":2010.48,"ERAinterim":22},{"x":2010.49,"ERAinterim":16},{"x":2010.50,"ERAinterim":10,"original Data":10},{"x":2010.51,"original Data":6},{"x":2010.52,"original Data":2}
  ]},
  "transform": [{"fold": ["ERAinterim", "original Data"], "as": ["source", "temperature"]}],
  "layer": [
    {
      "mark": {"type": "line", "strokeWidth": 1},
      "encoding": {
        "x": {"field": "x", "type": "quantitative",
              "scale": {"domain": [1998.56, 2010.52], "nice": false, "zero": false},
              "axis": {"orient": "bottom", "values": [1999,2000,2001,2002,2003,2004,2005,2006,2007,2008,2009,2010], "format": "d",
                       "tickSize": -8, "tickColor": "#666", "domain": false, "grid": false, "labelPadding": 13,
                       "labelFont": "DejaVu Sans", "labelFontSize": 15, "labelColor": "#222", "title": null}},
        "y": {"field": "temperature", "type": "quantitative",
              "scale": {"domain": [-60, 30], "nice": false, "zero": false},
              "axis": {"orient": "left", "values": [-60,-50,-40,-30,-20,-10,0,10,20,30],
                       "tickSize": -11, "tickColor": "#666", "domain": false, "grid": false, "labelPadding": 16,
                       "labelFont": "DejaVu Sans", "labelFontSize": 15, "labelColor": "#222",
                       "title": "Temperature (°C)", "titleFont": "DejaVu Sans", "titleFontSize": 12, "titleFontWeight": "normal", "titleColor": "#222",
                       "titleAngle": -90, "titleX": -53, "titleY": 210, "titleAlign": "center", "titleBaseline": "middle"}},
        "color": {"field": "source", "type": "nominal",
                  "scale": {"domain": ["ERAinterim", "original Data"], "range": ["#dd3300", "#008000"]},
                  "legend": {"orient": "none", "legendX": 911, "legendY": 5, "title": null,
                             "symbolType": "stroke", "symbolSize": 2809, "symbolStrokeWidth": 1, "symbolOpacity": 0.6,
                             "symbolOffset": 7, "labelOffset": 13, "clipHeight": 14, "rowPadding": 1, "padding": 3,
                             "strokeColor": "#333", "fillColor": "white", "labelAlign": "left",
                             "labelFont": "DejaVu Sans", "labelFontSize": 15, "labelColor": "#222", "labelLimit": 300}}
      }
    },
    {
      "mark": {"type": "point", "opacity": 0},
      "encoding": {
        "x": {"field": "x", "type": "quantitative",
              "axis": {"orient": "top", "values": [1999,2000,2001,2002,2003,2004,2005,2006,2007,2008,2009,2010],
                       "tickSize": -8, "tickColor": "#666", "domain": false, "grid": false, "labels": false, "title": null}},
        "y": {"field": "temperature", "type": "quantitative",
              "axis": {"orient": "right", "values": [-60,-50,-40,-30,-20,-10,0,10,20,30],
                       "tickSize": -11, "tickColor": "#666", "domain": false, "grid": false, "labels": false, "title": null}}
      }
    }
  ],
  "resolve": {"axis": {"x": "independent", "y": "independent"}}
}
